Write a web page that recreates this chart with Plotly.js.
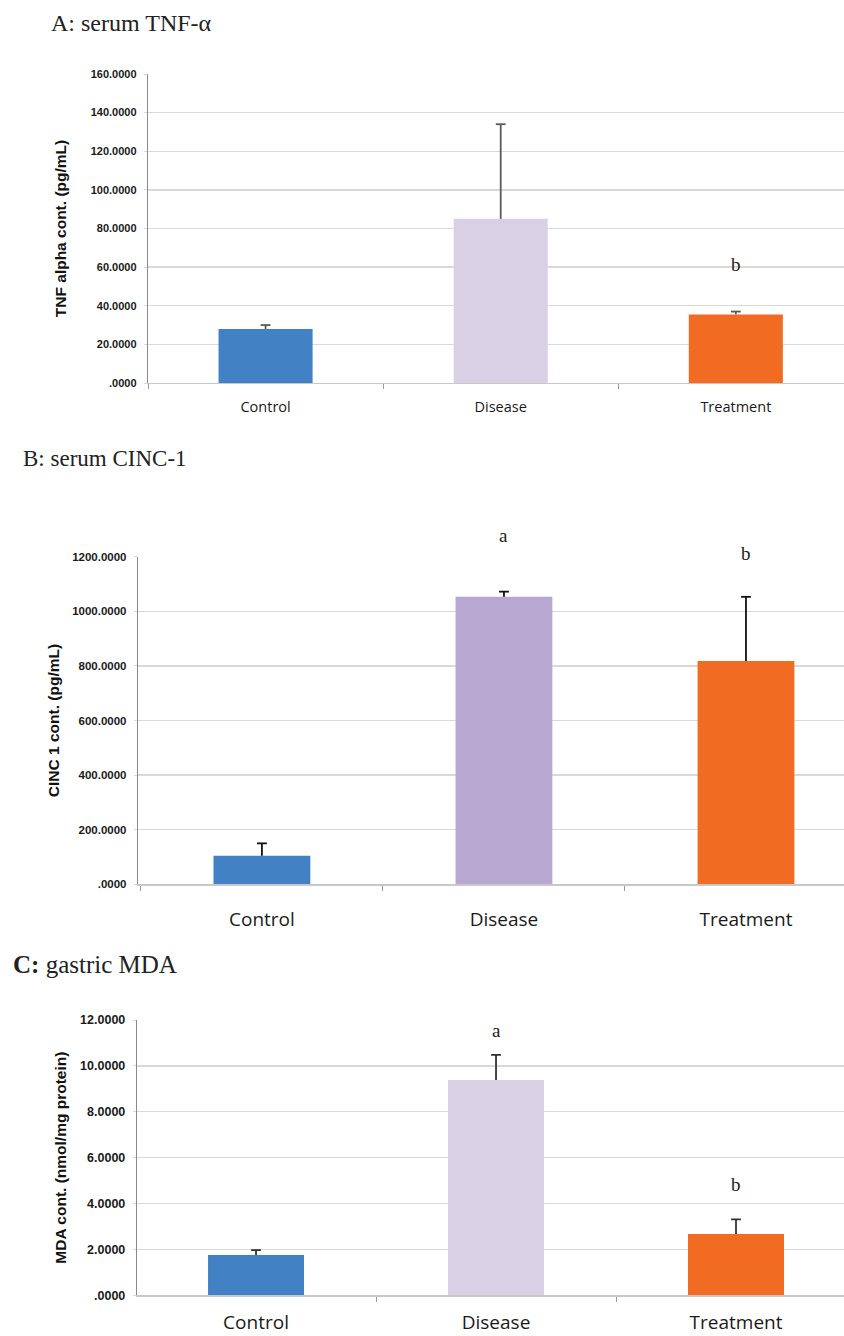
<!DOCTYPE html>
<html>
<head>
<meta charset="utf-8">
<script src="https://cdn.plot.ly/plotly-3.0.1.min.js"></script>
<style>
html,body{margin:0;padding:0;background:#fff;}
#chart{width:844px;height:1336px;}
</style>
</head>
<body>
<div id="chart"></div>
<script>
// ---- data ----
const categories = ['Control', 'Disease', 'Treatment'];

const tnfMean = [28.0, 85.0, 35.5];
const tnfErr  = [2.0, 49.0, 1.5];
const tnfTickVals = [0, 20, 40, 60, 80, 100, 120, 140, 160];
const tnfTickText = ['.0000', '20.0000', '40.0000', '60.0000', '80.0000', '100.0000', '120.0000', '140.0000', '160.0000'];
const tnfLetters = ['', '', 'b'];

const cincMean = [105, 1053, 818];
const cincErr  = [45, 19, 235];
const cincTickVals = [0, 200, 400, 600, 800, 1000, 1200];
const cincTickText = ['.0000', '200.0000', '400.0000', '600.0000', '800.0000', '1000.0000', '1200.0000'];
const cincLetters = ['', 'a', 'b'];

const mdaMean = [1.76, 9.38, 2.67];
const mdaErr  = [0.21, 1.10, 0.64];
const mdaTickVals = [0, 2, 4, 6, 8, 10, 12];
const mdaTickText = ['.0000', '2.0000', '4.0000', '6.0000', '8.0000', '10.0000', '12.0000'];
const mdaLetters = ['', 'a', 'b'];

// ---- styling ----
const W = 844, H = 1336;
const colorsLight = ['#4281C4', '#D9D0E6', '#F26B22'];
const colorsB     = ['#4281C4', '#B8A7D1', '#F26B22'];

function yd(top, bottom) { return [1 - bottom / H, 1 - top / H]; }
function xd(left, right) { return [left / W, right / W]; }

function barTrace(vals, colors, xa, ya) {
  return {
    type: 'bar', x: categories, y: vals, xaxis: xa, yaxis: ya,
    width: 0.4,
    marker: {color: colors, line: {width: 0}},
    hoverinfo: 'skip', showlegend: false
  };
}
// upper-only error bars: a stem from the bar top plus a cap at the top end
function errTraces(vals, errs, xa, ya, color) {
  const sx = [], sy = [];
  categories.forEach((c, i) => { sx.push(c, c, null); sy.push(vals[i], vals[i] + errs[i], null); });
  return [
    {type: 'scatter', mode: 'lines', x: sx, y: sy, xaxis: xa, yaxis: ya,
     line: {color: color, width: 1.8}, connectgaps: false, hoverinfo: 'skip', showlegend: false, cliponaxis: false},
    {type: 'scatter', mode: 'markers', x: categories, y: vals.map((v, i) => v + errs[i]), xaxis: xa, yaxis: ya,
     marker: {symbol: 'line-ew', size: 7, line: {color: color, width: 1.8}},
     hoverinfo: 'skip', showlegend: false, cliponaxis: false}
  ];
}

const data = [
  barTrace(tnfMean, colorsLight, 'x', 'y'),
  ...errTraces(tnfMean, tnfErr, 'x', 'y', '#5a5a5a'),
  barTrace(cincMean, colorsB, 'x2', 'y2'),
  ...errTraces(cincMean, cincErr, 'x2', 'y2', '#111111'),
  barTrace(mdaMean, colorsLight, 'x3', 'y3'),
  ...errTraces(mdaMean, mdaErr, 'x3', 'y3', '#333333')
];

const gridColor = '#d9d9d9';
function xAxis(domain, range, anchor, fontSize, standoff) {
  return {
    domain: domain, range: range, anchor: anchor, type: 'category',
    showgrid: false, zeroline: false, showline: true, linecolor: '#c8c8c8', linewidth: 1.3,
    ticks: 'outside', tickson: 'boundaries', ticklen: 5, tickcolor: '#9a9a9a', tickwidth: 1,
    tickfont: {family: '"Open Sans", "Noto Sans", sans-serif', size: fontSize, color: '#1a1a1a'},
    ticklabelstandoff: standoff, fixedrange: true
  };
}
function yAxis(domain, range, anchor, vals, text, title, tfs, titleSize, standoff) {
  return {
    domain: domain, range: range, anchor: anchor,
    tickmode: 'array', tickvals: vals, ticktext: text,
    showgrid: true, gridcolor: gridColor, gridwidth: 1.3,
    zeroline: false, showline: true, linecolor: '#8a8a8a', linewidth: 1.2,
    ticks: 'outside', ticklen: 3, tickcolor: gridColor,
    tickfont: {family: '"Liberation Sans", Arial, sans-serif', size: tfs, color: '#1a1a1a', weight: 'bold'},
    ticklabelstandoff: 5,
    title: {text: title, standoff: standoff,
            font: {family: '"Liberation Sans", Arial, sans-serif', size: titleSize, color: '#111', weight: 'bold'}},
    fixedrange: true
  };
}

const serif = '"Liberation Serif", "Times New Roman", serif';
function letterAnn(xa, yref, cat, y, txt) {
  return {xref: xa, yref: yref, x: cat, y: y, text: txt, showarrow: false,
          xanchor: 'center', yanchor: 'middle',
          font: {family: serif, size: 19, color: '#222'}};
}

const annotations = [
  {xref: 'paper', yref: 'paper', x: 49 / W, y: 1 - 23 / H, xanchor: 'left', yanchor: 'middle',
   text: 'A: serum TNF-α', showarrow: false, font: {family: serif, size: 24, color: '#222'}},
  {xref: 'paper', yref: 'paper', x: 21 / W, y: 1 - 458 / H, xanchor: 'left', yanchor: 'middle',
   text: 'B: serum CINC-1', showarrow: false, font: {family: serif, size: 23, color: '#222'}},
  {xref: 'paper', yref: 'paper', x: 11 / W, y: 1 - 964 / H, xanchor: 'left', yanchor: 'middle',
   text: '<b>C:</b> gastric MDA', showarrow: false, font: {family: serif, size: 25, color: '#222'}}
];
// letter heights expressed as fractions of each plot's value axis (may sit above the top gridline)
const letterYA = [0, 0, 61.6 / 160];
const letterYB = [0, 1279 / 1200, 1212 / 1200];
const letterYC = [0, 11.53 / 12, 4.84 / 12];
categories.forEach((c, i) => {
  if (tnfLetters[i]) annotations.push(letterAnn('x', 'y domain', c, letterYA[i], tnfLetters[i]));
  if (cincLetters[i]) annotations.push(letterAnn('x2', 'y2 domain', c, letterYB[i], cincLetters[i]));
  if (mdaLetters[i]) annotations.push(letterAnn('x3', 'y3 domain', c, letterYC[i], mdaLetters[i]));
});

const layout = {
  width: W, height: H,
  margin: {l: 0, r: 0, t: 0, b: 0},
  paper_bgcolor: '#ffffff', plot_bgcolor: '#ffffff',
  showlegend: false,
  xaxis:  xAxis(xd(148, 844), [-0.5, 2.46], 'y', 14.5, 10),
  yaxis:  yAxis(yd(74, 383), [0, 160], 'x', tnfTickVals, tnfTickText, 'TNF alpha cont. (pg/mL)', 11, 15.5, 20),
  xaxis2: xAxis(xd(138, 844), [-0.512, 2.405], 'y2', 19, 18),
  yaxis2: yAxis(yd(556.7, 884.3), [0, 1200], 'x2', cincTickVals, cincTickText, 'CINC 1 cont. (pg/mL)', 11.5, 15.5, 8),
  xaxis3: xAxis(xd(137, 844), [-0.496, 2.45], 'y3', 19, 10),
  yaxis3: yAxis(yd(1020, 1295.3), [0, 12], 'x3', mdaTickVals, mdaTickText, 'MDA cont. (nmol/mg protein)', 12.5, 15.5, 9),
  annotations: annotations
};

Plotly.newPlot('chart', data, layout, {displayModeBar: false, staticPlot: true});
</script>
</body>
</html>
